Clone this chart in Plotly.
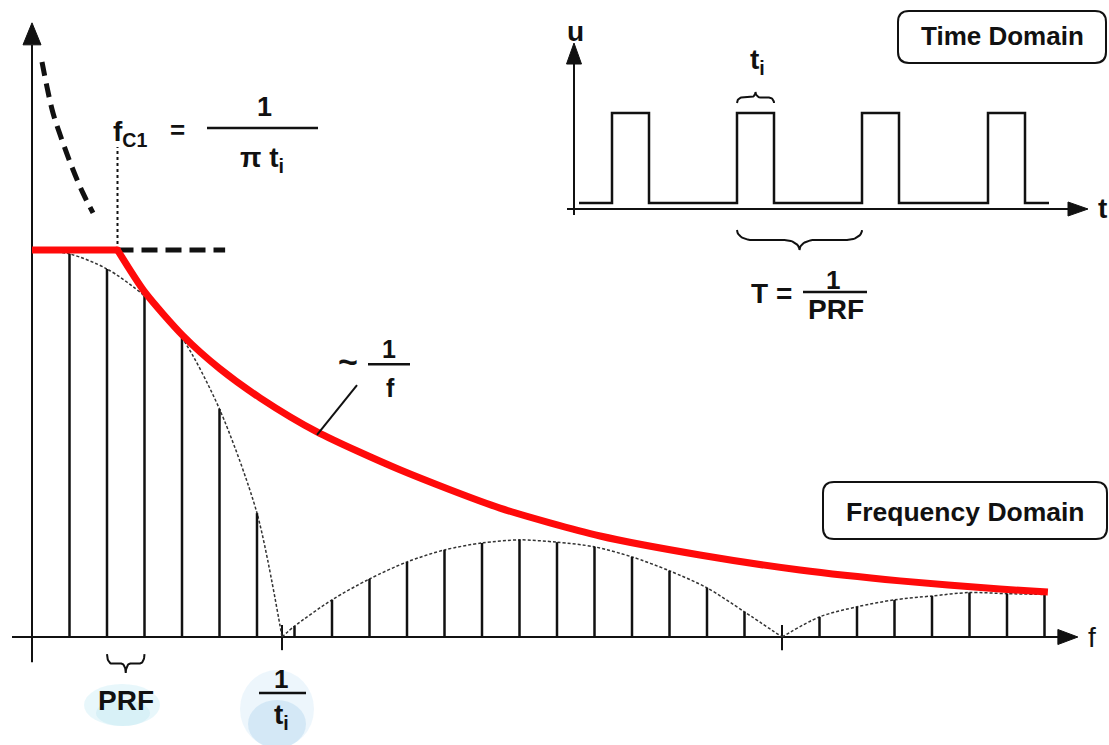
import numpy as np
import plotly.graph_objects as go

W, H = 1109, 745

# ---------------- frequency domain: line spectrum of a pulse train ----------------
# harmonic index n = f / PRF, amplitude relative to the DC level
harmonic = list(range(1, 28))
line_amp = [0.990, 0.951, 0.881, 0.773, 0.589, 0.320, 0.028, 0.096, 0.150,
            0.194, 0.225, 0.243, 0.251, 0.245, 0.233, 0.207, 0.171, 0.127,
            0.065, 0.000, 0.052, 0.078, 0.096, 0.106, 0.115, 0.112, 0.110]
dc_level = 1.0
null_n = [6.667, 20.0]          # zeros of the sinc envelope (first one = 1/ti)
fc1_n = 2.28                    # corner frequency fc1 = 1/(pi ti)

# 1/f asymptote (red) beyond the corner frequency
asym_n = [2.28, 3.01, 4.03, 5.01, 6.08, 7.60, 9.81, 12.48, 15.15, 17.81,
          20.48, 23.15, 25.81, 27.09]
asym_amp = [1.000, 0.891, 0.778, 0.693, 0.618, 0.530, 0.432, 0.333, 0.261,
            0.212, 0.173, 0.145, 0.124, 0.116]

# continuation of the 1/f law towards low frequencies (thick dashed)
lowf_n = [0.267, 0.40, 0.56, 0.80, 1.067, 1.36, 1.627]
lowf_amp = [1.486, 1.421, 1.354, 1.284, 1.214, 1.147, 1.096]
flat_ext_n = [fc1_n, 5.15]      # dashed continuation of the flat level

# ---------------- time domain: rectangular pulse train ----------------
pulse_start = [0.304, 1.304, 2.304, 3.312]   # in units of the period T
pulse_width = 0.296                          # ti / T
u_low, u_high = 0.0625, 1.0
signal_span = [0.04, 3.80]

# ---------------- axis scaling (pixels per unit) ----------------
X0, SX = 32, 37.5        # main: x pixel of n = 0, px per harmonic
Y0, SY = 637, 387        # main: y pixel of amplitude 0, px per amplitude unit
TX0, STX = 574, 125      # inset: x pixel of t = 0, px per period
UY0, SUY = 209, 96       # inset: y pixel of u = 0, px per amplitude unit

BLACK = "#111111"
RED = "#ff0a0a"
FONT = "Liberation Sans"

fig = go.Figure()


def line(x, y, axes=("x", "y"), **style):
    fig.add_trace(go.Scatter(x=x, y=y, mode="lines", xaxis=axes[0], yaxis=axes[1],
                             hoverinfo="skip", showlegend=False, **style))


def head(tip, direction, length, half, sx, sy, axes=("x", "y")):
    tx, ty = tip
    if direction == "up":
        xs = [tx, tx - half / sx, tx + half / sx, tx]
        ys = [ty, ty - length / sy, ty - length / sy, ty]
    else:
        xs = [tx, tx - length / sx, tx - length / sx, tx]
        ys = [ty, ty + half / sy, ty - half / sy, ty]
    fig.add_trace(go.Scatter(x=xs, y=ys, mode="lines", fill="toself", fillcolor=BLACK,
                             line=dict(color=BLACK, width=1), xaxis=axes[0], yaxis=axes[1],
                             hoverinfo="skip", showlegend=False))


def brace(x0, x1, y_end, y_tip, rx, axes=("x", "y"), width=2):
    xm = (x0 + x1) / 2
    ym = (y_end + y_tip) / 2
    ry1 = ym - y_end
    ry2 = y_tip - ym
    th = np.linspace(np.pi, np.pi / 2, 12)
    ax = list(x0 + rx + rx * np.cos(th))
    ay = list(y_end + ry1 * np.sin(th))
    ph = np.linspace(0, np.pi / 2, 12)
    bx = list(xm - rx + rx * np.sin(ph))
    by = list(y_tip - ry2 * np.cos(ph))
    left_x = ax + bx
    left_y = ay + by
    right_x = [2 * xm - v for v in left_x[::-1]]
    right_y = left_y[::-1]
    line(left_x + right_x, left_y + right_y, axes, line=dict(color=BLACK, width=width))


# ---------- main spectrum ----------
# axes
line([-0.533, 27.4], [0, 0], line=dict(color=BLACK, width=2))
head((27.89, 0), "right", 20, 7.5, SX, SY)
line([0, 0], [-0.065, 1.53], line=dict(color=BLACK, width=2))
head((0, 1.587), "up", 22, 9, SX, SY)

# null ticks
tx, ty = [], []
for n in null_n:
    tx += [n, n, None]
    ty += [-0.034, 0.031, None]
line(tx, ty, line=dict(color=BLACK, width=2))

# sinc envelope, one lobe at a time
env_pts = [(0.0, dc_level)] + list(zip(harmonic, line_amp))
lobes = [[p for p in env_pts if p[0] < null_n[0]] + [(null_n[0], 0.0)],
         [(null_n[0], 0.0)] + [p for p in env_pts if null_n[0] < p[0] < null_n[1]] + [(null_n[1], 0.0)],
         [(null_n[1], 0.0)] + [p for p in env_pts if p[0] > null_n[1]]]
for lobe in lobes:
    line([p[0] for p in lobe], [p[1] for p in lobe],
         line=dict(color="#333333", width=1.5, dash="3px,2px", shape="spline", smoothing=0.8))

# spectral lines
sx_, sy_ = [], []
for n, a in zip(harmonic, line_amp):
    sx_ += [n, n, None]
    sy_ += [0, a, None]
line(sx_, sy_, line=dict(color=BLACK, width=2.5))

# dashed guides at the corner frequency
line(lowf_n, lowf_amp, line=dict(color=BLACK, width=5, dash="14px,8px", shape="spline"))
line(flat_ext_n, [dc_level, dc_level], line=dict(color=BLACK, width=5, dash="16px,8px"))
line([fc1_n, fc1_n], [dc_level, 1.266], line=dict(color=BLACK, width=2, dash="3px,3px"))

# red envelope: flat up to fc1, then ~1/f
line([0, fc1_n], [dc_level, dc_level], line=dict(color=RED, width=7))
line(asym_n, asym_amp, line=dict(color=RED, width=7, shape="spline", smoothing=0.7))
fig.add_trace(go.Scatter(x=[fc1_n], y=[dc_level], mode="markers",
                         marker=dict(color=RED, size=7), hoverinfo="skip", showlegend=False))

# leader for the ~1/f label
line([8.667, 7.60], [0.651, 0.522], line=dict(color=BLACK, width=2))

# fraction bars (main axes)
line([4.667, 7.627], [1.315, 1.315], line=dict(color=BLACK, width=2.5))
line([8.96, 10.08], [0.705, 0.705], line=dict(color=BLACK, width=2.5))
line([6.053, 7.307], [-0.145, -0.145], line=dict(color=BLACK, width=2.5))

# PRF brace
brace(2.0, 3.0, -0.044, -0.093, 0.12)

# ---------- time domain inset ----------
IN = ("x2", "y2")
line([-0.056, 4.0], [0, 0], IN, line=dict(color=BLACK, width=2))
head((4.112, 0), "right", 20, 7, STX, SUY, IN)
line([0, 0], [-0.0625, 1.55], IN, line=dict(color=BLACK, width=2))
head((0, 1.729), "up", 21, 7.5, STX, SUY, IN)

px_, pu_ = [signal_span[0]], [u_low]
for s in pulse_start:
    px_ += [s, s, s + pulse_width, s + pulse_width]
    pu_ += [u_low, u_high, u_high, u_low]
px_.append(signal_span[1])
pu_.append(u_low)
line(px_, pu_, IN, line=dict(color=BLACK, width=2.5))

brace(pulse_start[1], pulse_start[1] + pulse_width, 1.104, 1.219, 0.04, IN)
brace(pulse_start[1], pulse_start[2], -0.219, -0.427, 0.12, IN)
line([1.832, 2.344], [-0.865, -0.865], IN, line=dict(color=BLACK, width=2.5))

# ---------- text ----------
ann = []


def label(text, x, y, size, ref=("x", "y"), xanchor="center", bold=True, color=BLACK):
    ann.append(dict(text=f"<b>{text}</b>" if bold else text, x=x, y=y, xref=ref[0], yref=ref[1],
                    xanchor=xanchor, yanchor="middle", showarrow=False,
                    font=dict(family=FONT, size=size, color=color)))


label("f<sub>C1</sub>", 2.10, 1.30, 28, xanchor="left")
label("=", 3.893, 1.31, 26)
label("1", 6.187, 1.37, 27)
label("π t<sub>i</sub>", 6.133, 1.235, 28)
label("~", 8.43, 0.712, 34)
label("1", 9.52, 0.745, 25)
label("f", 9.573, 0.643, 25)
label("PRF", 2.507, -0.165, 28)
label("1", 6.64, -0.108, 26)
label("t<sub>i</sub>", 6.64, -0.205, 28)
label("f", 28.27, 0.0, 28, bold=False)

label("u", 0.008, 1.844, 28, IN)
label("t", 4.224, 0.01, 28, IN)
label("t<sub>i</sub>", 1.47, 1.54, 28, IN)
label("T =", 1.576, -0.885, 28, IN)
label("1", 2.072, -0.74, 26, IN)
label("PRF", 2.096, -1.052, 28, IN)

label("Time Domain", (898 + 1106) / 2 / W, 1 - 36 / H, 26, ("paper", "paper"))
label("Frequency Domain", (823 + 1107) / 2 / W, 1 - 512 / H, 26.5, ("paper", "paper"))


def rounded_box(x0, y0, x1, y1, r):
    # pixel rectangle -> paper-coordinate rounded path
    def p(x, y):
        return f"{x / W:.5f},{1 - y / H:.5f}"
    return ("M " + p(x0 + r, y0) + " L " + p(x1 - r, y0) + " Q " + p(x1, y0) + " " + p(x1, y0 + r) +
            " L " + p(x1, y1 - r) + " Q " + p(x1, y1) + " " + p(x1 - r, y1) +
            " L " + p(x0 + r, y1) + " Q " + p(x0, y1) + " " + p(x0, y1 - r) +
            " L " + p(x0, y0 + r) + " Q " + p(x0, y0) + " " + p(x0 + r, y0) + " Z")


def tint(x0, y0, x1, y1, color):
    return dict(type="circle", x0=x0 / W, x1=x1 / W, y0=1 - y1 / H, y1=1 - y0 / H,
                xref="paper", yref="paper", fillcolor=color, line=dict(width=0), layer="below")


shapes = [
    dict(type="path", path=rounded_box(898, 11, 1106, 63, 11), xref="paper", yref="paper",
         line=dict(color=BLACK, width=2), fillcolor="white"),
    dict(type="path", path=rounded_box(823, 482, 1107, 539, 11), xref="paper", yref="paper",
         line=dict(color=BLACK, width=2), fillcolor="white"),
    # faint light-blue tint behind the axis labels
    tint(84, 684, 160, 726, "rgba(205,238,246,0.45)"),
    tint(96, 700, 150, 726, "rgba(185,228,240,0.35)"),
    tint(240, 670, 314, 748, "rgba(215,235,248,0.45)"),
    tint(248, 700, 306, 748, "rgba(175,212,238,0.40)"),
]

fig.update_layout(
    width=W, height=H, autosize=False,
    margin=dict(l=0, r=0, t=0, b=0),
    paper_bgcolor="white", plot_bgcolor="white",
    showlegend=False,
    xaxis=dict(range=[-X0 / SX, (W - X0) / SX], visible=False, fixedrange=True),
    yaxis=dict(range=[(Y0 - H) / SY, Y0 / SY], visible=False, fixedrange=True),
    xaxis2=dict(range=[-TX0 / STX, (W - TX0) / STX], overlaying="x", visible=False, fixedrange=True),
    yaxis2=dict(range=[(UY0 - H) / SUY, UY0 / SUY], overlaying="y", visible=False, fixedrange=True),
    annotations=ann,
    shapes=shapes,
)

fig.write_html("out.html")
